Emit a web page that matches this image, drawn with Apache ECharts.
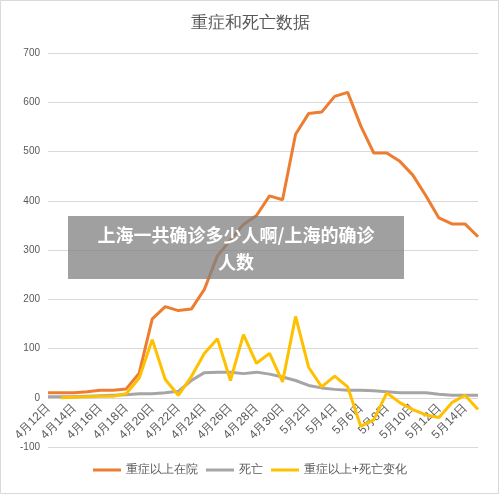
<!DOCTYPE html><html><head><meta charset="utf-8"><script src="https://cdn.jsdelivr.net/npm/echarts@6/dist/echarts.min.js"></script></head><body style="margin:0"><div id="c" style="width:500px;height:495px"></div><script>
const categories=[];for(let d=12;d<=30;d++)categories.push('4月'+d+'日');for(let d=1;d<=15;d++)categories.push('5月'+d+'日');
const severe=[10,10,10,12,15,15,18,50,160,185,177,180,220,288,320,352,370,410,402,535,577,580,612,620,552,497,497,480,452,410,365,353,353,327];
const deaths=[2,2,2,3,4,5,6,8,8,10,13,35,51,52,52,49,52,48,42,35,25,20,17,15,15,14,12,10,10,10,7,5,5,5];
const change=[null,0,1,2,3,3,8,40,118,37,5,43,90,120,35,128,70,90,32,165,62,22,44,22,-58,-45,10,-10,-24,-35,-40,-10,5,-24];
const ch=echarts.init(document.getElementById('c'));
ch.setOption({
title:{text:'重症和死亡数据',left:'center',top:10,textStyle:{fontSize:17,fontWeight:'normal',color:'#595959'}},
grid:{left:48,right:22,top:53,bottom:48},
legend:{bottom:14,itemWidth:28,itemHeight:3,icon:'rect',textStyle:{color:'#595959',fontSize:12},data:['重症以上在院','死亡','重症以上+死亡变化']},
xAxis:{type:'category',data:categories,boundaryGap:false,offset:-49,axisLine:{show:false,onZero:false},axisTick:{show:false},axisLabel:{interval:1,rotate:45,color:'#595959',fontSize:12}},
yAxis:{type:'value',min:-100,max:700,interval:100,axisLabel:{color:'#595959',fontSize:10},splitLine:{lineStyle:{color:'#d9d9d9'}}},
series:[
{name:'重症以上在院',type:'line',data:severe,symbol:'none',lineStyle:{width:3,color:'#ED7D31'},itemStyle:{color:'#ED7D31'}},
{name:'死亡',type:'line',data:deaths,symbol:'none',lineStyle:{width:3,color:'#A5A5A5'},itemStyle:{color:'#A5A5A5'}},
{name:'重症以上+死亡变化',type:'line',data:change,symbol:'none',lineStyle:{width:3,color:'#FFC000'},itemStyle:{color:'#FFC000'}}
],
graphic:[{type:'rect',shape:{x:0.5,y:0.5,width:498,height:493},style:{fill:'none',stroke:'#d9d9d9'}},
{type:'rect',shape:{x:68,y:216,width:336,height:63},style:{fill:'rgba(128,128,128,0.75)'},z:100},
{type:'text',style:{x:236,y:222,text:'上海一共确诊多少人啊/上海的确诊\n人数',fill:'#fff',font:'bold 18px "Noto Sans CJK SC"',align:'center',lineHeight:27},z:101}]
});
</script></body></html>
